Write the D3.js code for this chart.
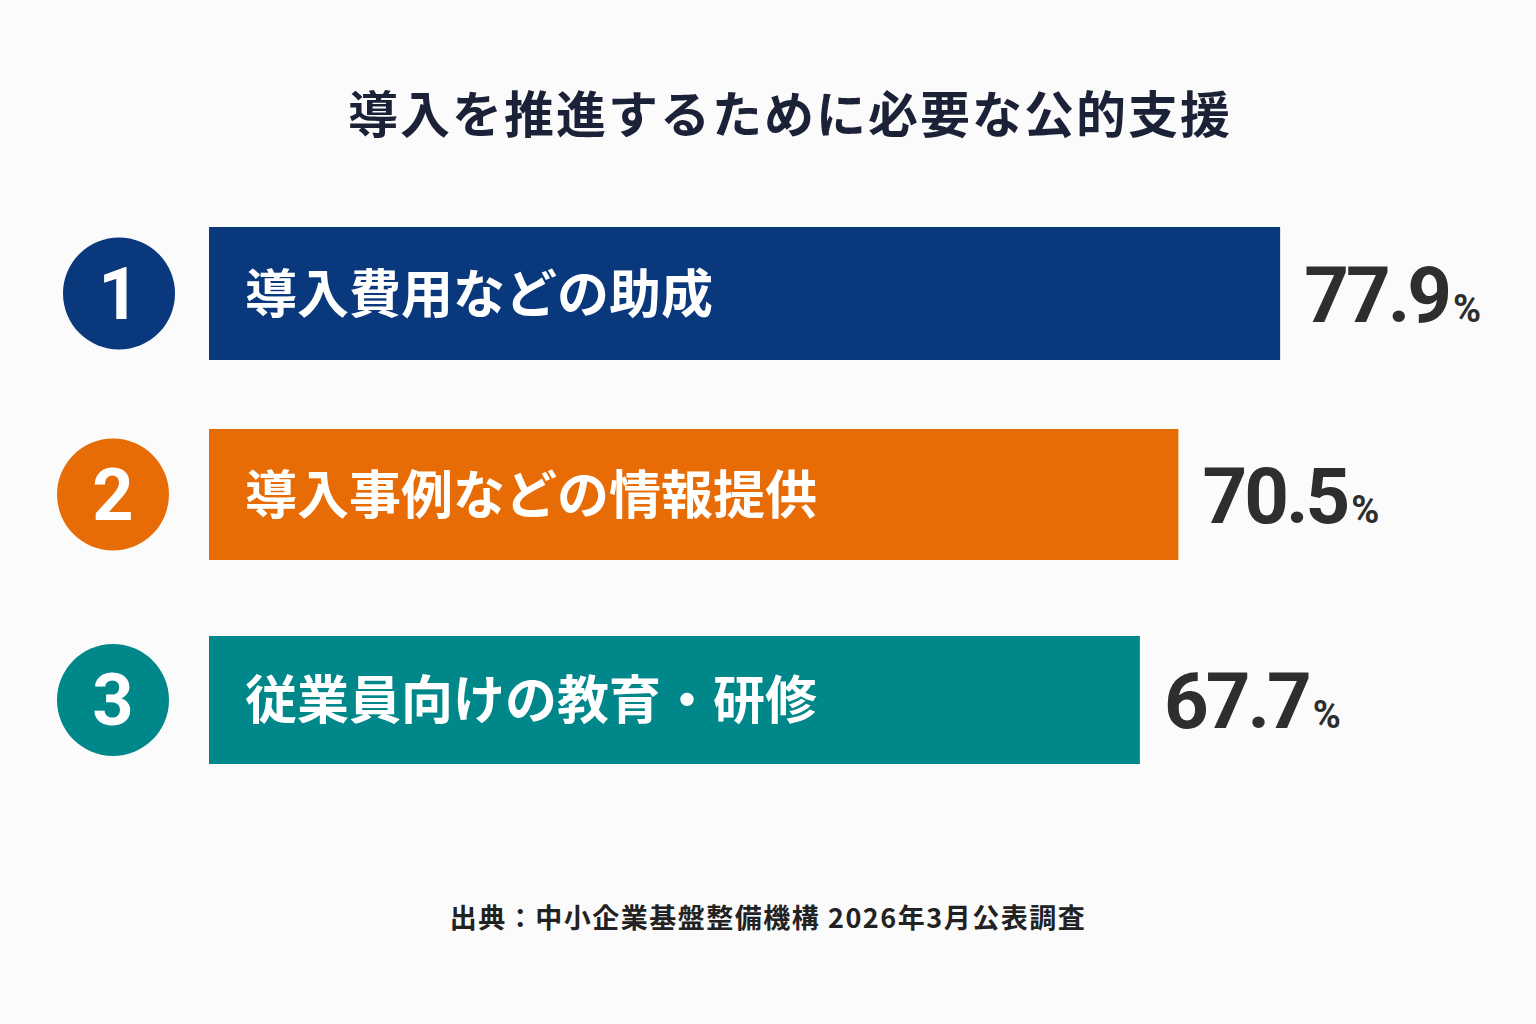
<!DOCTYPE html>
<html><head><meta charset="utf-8">
<script src="https://cdn.jsdelivr.net/npm/d3@7"></script>
<style>body{margin:0;background:#fbfbfb}svg{display:block}</style>
</head><body>
<script>
const categories=["導入費用などの助成","導入事例などの情報提供","従業員向けの教育・研修"];
const values=[77.9,70.5,67.7];
const ranks=["1","2","3"];
const colors=["#0a387c","#e86c05","#00878a"];
const title="導入を推進するために必要な公的支援";
const source="出典：中小企業基盤整備機構 2026年3月公表調査";

const W=1536,H=1024;
const svg=d3.select("body").append("svg").attr("width",W).attr("height",H);
svg.append("rect").attr("width",W).attr("height",H).attr("fill","#fbfbfb");
const font="'Noto Sans CJK JP','Noto Sans',sans-serif";
svg.append("text").attr("x",790).attr("y",133).attr("text-anchor","middle")
 .attr("font-family",font).attr("font-weight",700).attr("font-size",50).attr("fill","#1b2238").attr("letter-spacing",2).text(title);
const x=d3.scaleLinear().domain([0,100]).range([209,1584]);
const tops=[227,429,636], heights=[133,131,128], cx=[119,113,113];
const g=svg.selectAll("g.row").data(categories).join("g");
g.append("rect").attr("x",x(0)).attr("y",(d,i)=>tops[i]).attr("width",(d,i)=>x(values[i])-x(0))
 .attr("height",(d,i)=>heights[i]).attr("fill",(d,i)=>colors[i]);
g.append("circle").attr("cx",(d,i)=>cx[i]).attr("cy",(d,i)=>tops[i]+heights[i]/2).attr("r",56).attr("fill",(d,i)=>colors[i]);
g.append("text").attr("x",(d,i)=>cx[i]).attr("y",(d,i)=>tops[i]+heights[i]/2+25).attr("text-anchor","middle")
 .attr("font-family","'Roboto',sans-serif").attr("font-weight",700).attr("font-size",72).attr("fill","#fff").text((d,i)=>ranks[i]);
g.append("text").attr("x",245).attr("y",(d,i)=>tops[i]+heights[i]/2+19).attr("font-family",font).attr("font-weight",700)
 .attr("font-size",52).attr("fill","#fff").text(d=>d);
const vt=g.append("text").attr("x",(d,i)=>x(values[i])+24).attr("y",(d,i)=>tops[i]+heights[i]/2+28)
 .attr("font-family","'Roboto',sans-serif").attr("font-weight",700).attr("fill","#2e2e2e").attr("letter-spacing",-3);
vt.append("tspan").attr("font-size",78).text((d,i)=>values[i].toFixed(1));
vt.append("tspan").attr("font-size",38).attr("dx",4).attr("letter-spacing",0).text("%");
svg.append("text").attr("x",768).attr("y",928).attr("text-anchor","middle").attr("font-family",font).attr("font-weight",700)
 .attr("font-size",27).attr("fill","#222").attr("letter-spacing",1.5).text(source);
</script>
</body></html>
